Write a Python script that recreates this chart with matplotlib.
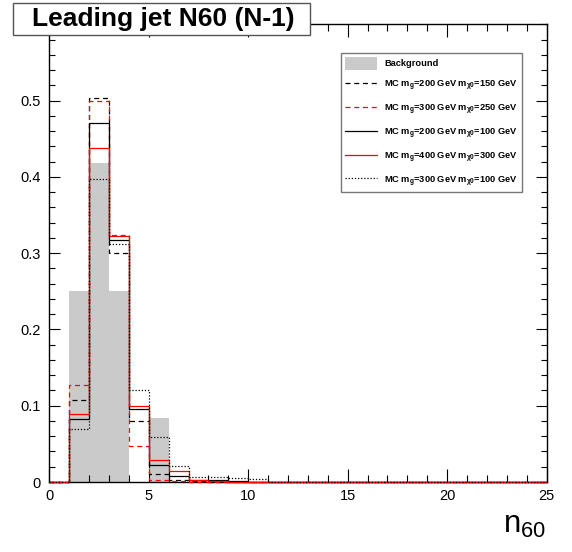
import numpy as np
import matplotlib
matplotlib.use("Agg")
import matplotlib.pyplot as plt
from matplotlib.patches import Rectangle, Patch
from matplotlib.lines import Line2D
from matplotlib.ticker import MultipleLocator

plt.rcParams['font.family'] = ['Liberation Sans', 'DejaVu Sans']
plt.rcParams['mathtext.fontset'] = 'custom'
plt.rcParams['mathtext.rm'] = 'Liberation Sans'
plt.rcParams['mathtext.it'] = 'Liberation Sans:italic'
plt.rcParams['mathtext.bf'] = 'Liberation Sans:bold'

# ---------------------------------------------------------
# DATA (fraction of events per n60 bin, bins of width 1 from 0 to 25)
# ---------------------------------------------------------
bin_edges = np.arange(0, 26)

background = [0, 0.250, 0.418, 0.250, 0, 0.0836] + [0] * 19
mc_200_150 = [0, 0.108, 0.503, 0.300, 0.080, 0.010, 0.003, 0.001] + [0] * 17
mc_300_250 = [0, 0.127, 0.499, 0.324, 0.047, 0.003, 0.001] + [0] * 18
mc_200_100 = [0, 0.082, 0.471, 0.317, 0.096, 0.022, 0.008, 0.003, 0.002, 0.001] + [0] * 15
mc_400_300 = [0, 0.089, 0.438, 0.322, 0.100, 0.029, 0.015, 0.003, 0.0015] + [0] * 16
mc_300_100 = [0, 0.070, 0.397, 0.312, 0.121, 0.059, 0.021, 0.006, 0.006, 0.005, 0.004] + [0] * 14

labels = [
    "Background",
    r"MC m$_{\mathbf{g}}$=200 GeV m$_{\mathbf{\chi0}}$=150 GeV",
    r"MC m$_{\mathbf{g}}$=300 GeV m$_{\mathbf{\chi0}}$=250 GeV",
    r"MC m$_{\mathbf{g}}$=200 GeV m$_{\mathbf{\chi0}}$=100 GeV",
    r"MC m$_{\mathbf{g}}$=400 GeV m$_{\mathbf{\chi0}}$=300 GeV",
    r"MC m$_{\mathbf{g}}$=300 GeV m$_{\mathbf{\chi0}}$=100 GeV",
]

# ---------------------------------------------------------
# PLOT
# ---------------------------------------------------------
fig = plt.figure(figsize=(5.72, 5.52), dpi=100)
ax = fig.add_axes([49.3 / 572, 70 / 552, (546.5 - 49.3) / 572, (482 - 24.3) / 552])

bg_col = '#cacaca'
ax.stairs(background, bin_edges, fill=True, color=bg_col, linewidth=0)

styles = [
    (mc_200_150, 'black', (0, (4, 3))),
    (mc_300_250, 'red', (0, (4, 3))),
    (mc_200_100, 'black', '-'),
    (mc_400_300, 'red', '-'),
    (mc_300_100, 'black', (0, (1, 1.5))),
]
for vals, col, ls in styles:
    ax.stairs(vals, bin_edges, baseline=0, color=col, linestyle=ls, linewidth=0.9,
              zorder=3, clip_on=False)

ax.set_xlim(0, 25)
ax.set_ylim(0, 0.6)
ax.set_xticks([0, 5, 10, 15, 20, 25])
ax.set_yticks([0, 0.1, 0.2, 0.3, 0.4, 0.5])
ax.set_yticklabels(['0', '0.1', '0.2', '0.3', '0.4', '0.5'])
ax.xaxis.set_minor_locator(MultipleLocator(1))
ax.yaxis.set_minor_locator(MultipleLocator(0.02))
ax.tick_params(which='both', direction='in', top=True, right=True, labelsize=10.5, width=0.8)
ax.tick_params(axis='x', which='major', length=9.5, pad=5)
ax.tick_params(axis='x', which='minor', length=4.7)
ax.tick_params(axis='y', which='major', length=8, pad=6)
ax.tick_params(axis='y', which='minor', length=4.5)
for sp in ax.spines.values():
    sp.set_linewidth(1.0)

# legend
handles = [Patch(facecolor=bg_col, edgecolor='none')]
for vals, col, ls in styles:
    handles.append(Line2D([], [], color=col, linestyle=ls, linewidth=0.9))
leg = ax.legend(handles, labels, loc='upper left',
                bbox_to_anchor=(341 / 572, 1 - 53 / 552), bbox_transform=fig.transFigure,
                prop={'weight': 'bold', 'size': 6.7}, frameon=True, fancybox=False,
                handlelength=3.5, handleheight=1.75, handletextpad=0.75,
                labelspacing=0.95, borderpad=0.4, borderaxespad=0)
leg.get_frame().set_edgecolor('#555555')
leg.get_frame().set_linewidth(1.0)
leg.set_zorder(5)

# title box
fig.patches.append(Rectangle((13 / 572, 1 - 35 / 552), (310 - 13) / 572, 32.5 / 552,
                             transform=fig.transFigure, facecolor='white',
                             edgecolor='#555555', linewidth=1.0, zorder=5))
fig.text(163 / 572, 1 - 19 / 552, "Leading jet N60 (N-1)", ha='center', va='center',
         fontsize=19, fontweight='bold', zorder=6)

# x axis title
fig.text(546 / 572, 19 / 552, r"n$_{\mathrm{60}}$", ha='right', va='baseline', fontsize=22.5)

fig.savefig("out.png", dpi=100)
